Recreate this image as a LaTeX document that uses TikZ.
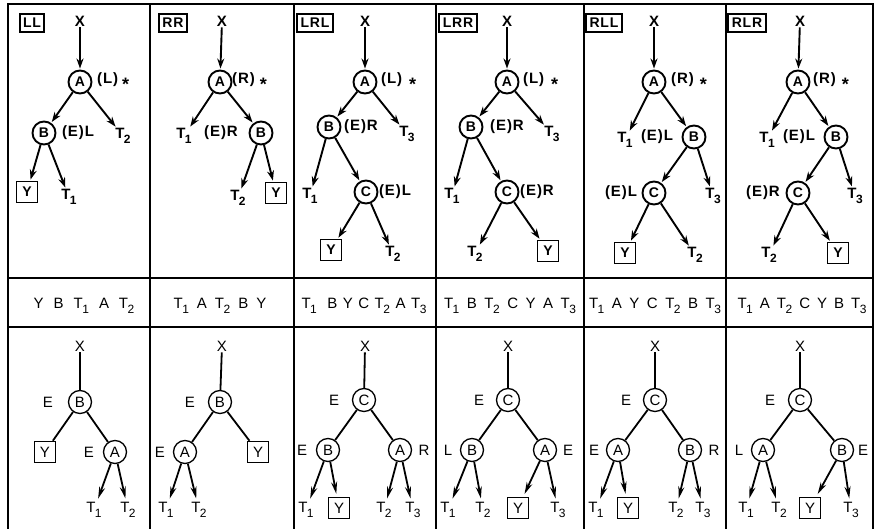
\documentclass[tikz,border=0pt]{standalone}
\usepackage{fontspec}
\setmainfont{Liberation Sans}[LetterSpace=6]
\usetikzlibrary{arrows.meta}
\newcommand\Tn[1]{T\kern-0.5pt\raisebox{-0.55ex}{\fontsize{12}{12}\selectfont #1}}
\newcommand\stx{\raisebox{-0.9ex}{\fontsize{18}{18}\selectfont *}}
\newcommand\wsp[2]{{\spaceskip=#1pt plus 1pt\relax #2}}
\tikzset{
 gl/.style={line width=2.3pt},
 cn/.style={circle,draw,line width=1.9pt,minimum size=23pt,inner sep=0pt,font=\fontsize{14}{14}\selectfont\bfseries},
 yb/.style={rectangle,draw,line width=1.9pt,minimum width=21pt,minimum height=21pt,inner sep=0pt,font=\fontsize{14}{14}\selectfont\bfseries},
 tag/.style={rectangle,draw,line width=2pt,inner xsep=3.5pt,inner ysep=1pt,minimum height=18pt,font=\fontsize{14}{14}\selectfont\bfseries},
 lb/.style={inner sep=1pt,font=\fontsize{15}{15}\selectfont\bfseries},
 ar/.style={line width=1.9pt,-{Stealth[length=10pt,width=7pt]},shorten >=1pt},
 bn/.style={circle,draw,line width=1.3pt,minimum size=23pt,inner sep=0pt,font=\fontsize{15}{15}\selectfont},
 by/.style={rectangle,draw,line width=1.5pt,minimum width=21pt,minimum height=21pt,inner sep=0pt,font=\fontsize{15}{15}\selectfont},
 bl/.style={inner sep=1pt,font=\fontsize{15}{15}\selectfont},
 be/.style={line width=1.8pt},
 ba/.style={line width=1.8pt,-{Stealth[length=12pt,width=6pt]},shorten >=3pt},
 tx/.style={inner sep=0pt,font=\fontsize{15}{16}\selectfont},
}
\begin{document}
\begin{tikzpicture}[x=1pt,y=-1pt]
\useasboundingbox (0,0) rectangle (879,529);
% grid
\draw[gl] (8,529) -- (8,4) -- (873,4) -- (873,529);
\foreach \xx in {150,294,436,584,726} \draw[gl] (\xx,4) -- (\xx,529);
\draw[gl] (8,278) -- (873,278);
\draw[gl] (8,327) -- (873,327);

% ---------- top: LL
\node[tag] (g1) at (32,23) {LL};
\node[lb] (x1) at (80,21) {X};
\node[cn] (a1) at (80,82) {A};
\node[lb,anchor=west] (la1) at (96,82) {(L)\hspace{4pt}\stx};
\node[cn] (b1) at (44,133) {B};
\node[lb] (lb1) at (78,133) {(E)L};
\node[lb] (q1) at (123,136) {\Tn2};
\node[yb] (y1) at (27,192) {Y};
\node[lb] (p1) at (69,197) {\Tn1};
\draw[ar] (x1) -- (a1);
\draw[ar] (a1) -- (b1);
\draw[ar] (a1) -- (q1);
\draw[ar] (b1) -- (y1);
\draw[ar] (b1) -- (p1);

% ---------- top: RR
\node[tag] (g2) at (173,23) {RR};
\node[lb] (x2) at (222,21) {X};
\node[cn] (a2) at (220,82) {A};
\node[lb,anchor=west] (la2) at (231,82) {(R)\hspace{5pt}\stx};
\node[lb] (p2) at (184,136) {\Tn1};
\node[lb] (lb2) at (221,133) {(E)R};
\node[cn] (b2) at (261,133) {B};
\node[lb] (q2) at (238,198) {\Tn2};
\node[yb] (y2) at (276,193) {Y};
\draw[ar] (x2) -- (a2);
\draw[ar] (a2) -- (p2);
\draw[ar] (a2) -- (b2);
\draw[ar] (b2) -- (q2);
\draw[ar] (b2) -- (y2);

% ---------- top: LRL
\node[tag] (g3) at (315,23) {LRL};
\node[lb] (x3) at (365,21) {X};
\node[cn] (a3) at (365,82) {A};
\node[lb,anchor=west] (la3) at (380,82) {(L)\hspace{7pt}\stx};
\node[cn] (b3) at (329,127) {B};
\node[lb] (lb3) at (361,127) {(E)R};
\node[lb] (r3) at (407,134) {\Tn3};
\node[lb] (p3) at (310,196) {\Tn1};
\node[cn] (c3) at (366,192) {C};
\node[lb] (lc3) at (395,192) {(E)L};
\node[yb] (y3) at (331,250) {Y};
\node[lb] (q3) at (393,254) {\Tn2};
\draw[ar] (x3) -- (a3);
\draw[ar] (a3) -- (b3);
\draw[ar] (a3) -- (r3);
\draw[ar] (b3) -- (p3);
\draw[ar] (b3) -- (c3);
\draw[ar] (c3) -- (y3);
\draw[ar] (c3) -- (q3);

% ---------- top: LRR
\node[tag] (g4) at (458,23) {LRR};
\node[lb] (x4) at (507,21) {X};
\node[cn] (a4) at (507,82) {A};
\node[lb,anchor=west] (la4) at (522,82) {(L)\hspace{7pt}\stx};
\node[cn] (b4) at (471,127) {B};
\node[lb] (lb4) at (507,127) {(E)R};
\node[lb] (r4) at (552,134) {\Tn3};
\node[lb] (p4) at (452,196) {\Tn1};
\node[cn] (c4) at (507,192) {C};
\node[lb] (lc4) at (537,192) {(E)R};
\node[lb] (q4) at (475,254) {\Tn2};
\node[yb] (y4) at (548,251) {Y};
\draw[ar] (x4) -- (a4);
\draw[ar] (a4) -- (b4);
\draw[ar] (a4) -- (r4);
\draw[ar] (b4) -- (p4);
\draw[ar] (b4) -- (c4);
\draw[ar] (c4) -- (q4);
\draw[ar] (c4) -- (y4);

% ---------- top: RLL
\node[tag] (g5) at (604,23) {RLL};
\node[lb] (x5) at (654,21) {X};
\node[cn] (a5) at (654,82) {A};
\node[lb,anchor=west] (la5) at (670,82) {(R)\hspace{6pt}\stx};
\node[lb] (p5) at (625,140) {\Tn1};
\node[lb] (lb5) at (657,137) {(E)L};
\node[cn] (b5) at (694,137) {B};
\node[lb] (lc5) at (621,193) {(E)L};
\node[cn] (c5) at (654,193) {C};
\node[lb] (r5) at (713,196) {\Tn3};
\node[yb] (y5) at (625,253) {Y};
\node[lb] (q5) at (695,255) {\Tn2};
\draw[ar] (x5) -- (a5);
\draw[ar] (a5) -- (p5);
\draw[ar] (a5) -- (b5);
\draw[ar] (b5) -- (c5);
\draw[ar] (b5) -- (r5);
\draw[ar] (c5) -- (y5);
\draw[ar] (c5) -- (q5);

% ---------- top: RLR
\node[tag] (g6) at (747,23) {RLR};
\node[lb] (x6) at (800,21) {X};
\node[cn] (a6) at (798,82) {A};
\node[lb,anchor=west] (la6) at (812,82) {(R)\hspace{6pt}\stx};
\node[lb] (p6) at (767,140) {\Tn1};
\node[lb] (lb6) at (799,137) {(E)L};
\node[cn] (b6) at (836,137) {B};
\node[lb] (lc6) at (763,193) {(E)R};
\node[cn] (c6) at (798,193) {C};
\node[lb] (r6) at (855,196) {\Tn3};
\node[lb] (q6) at (769,255) {\Tn2};
\node[yb] (y6) at (838,253) {Y};
\draw[ar] (x6) -- (a6);
\draw[ar] (a6) -- (p6);
\draw[ar] (a6) -- (b6);
\draw[ar] (b6) -- (c6);
\draw[ar] (b6) -- (r6);
\draw[ar] (c6) -- (q6);
\draw[ar] (c6) -- (y6);

% ---------- text row
\node[tx] (s1) at (84,306) {\wsp{10}{Y B \Tn1 A \Tn2}};
\node[tx] (s2) at (220,306) {\wsp{8}{\Tn1 A \Tn2 B Y}};
\node[tx] (s3) at (364,306) {\wsp{5.5}{\Tn1\hspace{5pt} B Y C \Tn2 A \Tn3}};
\node[tx] (s4) at (510,306) {\wsp{7.5}{\Tn1 B \Tn2 C Y A \Tn3}};
\node[tx] (s5) at (655,306) {\wsp{7.5}{\Tn1 A Y C \Tn2 B \Tn3}};
\node[tx] (s6) at (802,306) {\wsp{7}{\Tn1 A \Tn2 C Y B \Tn3}};

% ---------- bottom: col 1
\node[bl] (bx1) at (80,346) {X};
\node[bn] (bb1) at (80,402) {B};
\node[bl] (be1) at (48,402) {E};
\node[by] (by1) at (45,452) {Y};
\node[bl] (bea1) at (89,452) {E};
\node[bn] (ba1) at (115,452) {A};
\node[bl] (bt11) at (94,510) {\Tn1};
\node[bl] (bt21) at (128,510) {\Tn2};
\draw[be] (bx1) -- (bb1);
\draw[be] (bb1) -- (by1);
\draw[be] (bb1) -- (ba1);
\draw[ba] (ba1) -- (bt11);
\draw[ba] (ba1) -- (bt21);

% ---------- bottom: col 2
\node[bl] (bx2) at (222,346) {X};
\node[bn] (bb2) at (220,402) {B};
\node[bl] (be2) at (190,402) {E};
\node[bn] (ba2) at (185,452) {A};
\node[bl] (bea2) at (160,452) {E};
\node[by] (by2) at (258,452) {Y};
\node[bl] (bt12) at (166,510) {\Tn1};
\node[bl] (bt22) at (199,510) {\Tn2};
\draw[be] (bx2) -- (bb2);
\draw[be] (bb2) -- (ba2);
\draw[be] (bb2) -- (by2);
\draw[ba] (ba2) -- (bt12);
\draw[ba] (ba2) -- (bt22);

% ---------- bottom: col 3
\node[bl] (bx3) at (365,346) {X};
\node[bn] (bc3) at (364,400) {C};
\node[bl] (bec3) at (334,400) {E};
\node[bn] (bb3) at (328,450) {B};
\node[bl] (beb3) at (302,450) {E};
\node[bn] (ba3) at (400,450) {A};
\node[bl] (bra3) at (424,450) {R};
\node[bl] (bt13) at (306,510) {\Tn1};
\node[by] (by3) at (339,508) {Y};
\node[bl] (bt23) at (384,510) {\Tn2};
\node[bl] (bt33) at (413,510) {\Tn3};
\draw[be] (bx3) -- (bc3);
\draw[be] (bc3) -- (bb3);
\draw[be] (bc3) -- (ba3);
\draw[ba] (bb3) -- (bt13);
\draw[ba] (bb3) -- (by3);
\draw[ba] (ba3) -- (bt23);
\draw[ba] (ba3) -- (bt33);

% ---------- bottom: col 4
\node[bl] (bx4) at (508,346) {X};
\node[bn] (bc4) at (508,400) {C};
\node[bl] (bec4) at (479,400) {E};
\node[bn] (bb4) at (472,450) {B};
\node[bl] (blb4) at (448,450) {L};
\node[bn] (ba4) at (545,450) {A};
\node[bl] (bea4) at (568,450) {E};
\node[bl] (bt14) at (448,510) {\Tn1};
\node[bl] (bt24) at (483,510) {\Tn2};
\node[by] (by4) at (518,508) {Y};
\node[bl] (bt34) at (558,510) {\Tn3};
\draw[be] (bx4) -- (bc4);
\draw[be] (bc4) -- (bb4);
\draw[be] (bc4) -- (ba4);
\draw[ba] (bb4) -- (bt14);
\draw[ba] (bb4) -- (bt24);
\draw[ba] (ba4) -- (by4);
\draw[ba] (ba4) -- (bt34);

% ---------- bottom: col 5
\node[bl] (bx5) at (655,346) {X};
\node[bn] (bc5) at (655,400) {C};
\node[bl] (bec5) at (626,400) {E};
\node[bn] (ba5) at (618,450) {A};
\node[bl] (bea5) at (594,450) {E};
\node[bn] (bb5) at (690,450) {B};
\node[bl] (brb5) at (714,450) {R};
\node[bl] (bt15) at (596,510) {\Tn1};
\node[by] (by5) at (628,508) {Y};
\node[bl] (bt25) at (676,510) {\Tn2};
\node[bl] (bt35) at (703,510) {\Tn3};
\draw[be] (bx5) -- (bc5);
\draw[be] (bc5) -- (ba5);
\draw[be] (bc5) -- (bb5);
\draw[ba] (ba5) -- (bt15);
\draw[ba] (ba5) -- (by5);
\draw[ba] (bb5) -- (bt25);
\draw[ba] (bb5) -- (bt35);

% ---------- bottom: col 6
\node[bl] (bx6) at (800,346) {X};
\node[bn] (bc6) at (800,400) {C};
\node[bl] (bec6) at (770,400) {E};
\node[bn] (ba6) at (763,450) {A};
\node[bl] (bla6) at (739,450) {L};
\node[bn] (bb6) at (842,450) {B};
\node[bl] (beb6) at (863,450) {E};
\node[bl] (bt16) at (746,510) {\Tn1};
\node[bl] (bt26) at (779,510) {\Tn2};
\node[by] (by6) at (810,508) {Y};
\node[bl] (bt36) at (851,510) {\Tn3};
\draw[be] (bx6) -- (bc6);
\draw[be] (bc6) -- (ba6);
\draw[be] (bc6) -- (bb6);
\draw[ba] (ba6) -- (bt16);
\draw[ba] (ba6) -- (bt26);
\draw[ba] (bb6) -- (by6);
\draw[ba] (bb6) -- (bt36);
\end{tikzpicture}
\end{document}
